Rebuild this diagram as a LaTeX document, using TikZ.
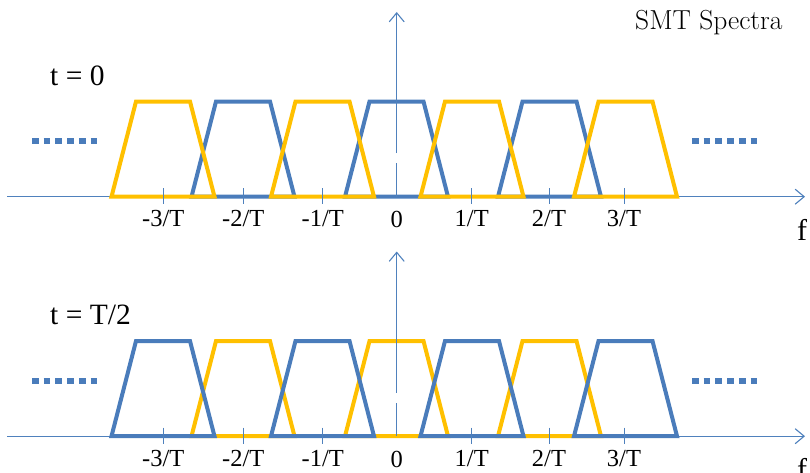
\documentclass[tikz,border=0pt]{standalone}
\usepackage{fontspec}
\newfontfamily\timesfont{Liberation Serif}
\usepackage{tikz}
\usetikzlibrary{arrows.meta}
\definecolor{axisBlue}{RGB}{79, 129, 189}
\definecolor{bandBlue}{RGB}{74, 124, 187}
\definecolor{bandGold}{RGB}{255, 192, 0}

\begin{document}
\begin{tikzpicture}[x=1pt, y=-1pt,
    axis/.style={axisBlue, line width=1.1pt},
    tip/.style={-{Straight Barb[length=9pt, width=15pt]}},
    band/.style={line width=4pt},
    dots/.style={bandBlue, line width=6pt, dash pattern=on 6.7pt off 5pt},
    ticklabel/.style={anchor=base, inner sep=0pt, font=\timesfont\fontsize{24.5}{28}\selectfont},
    timelabel/.style={anchor=base west, inner sep=0pt, font=\timesfont\fontsize{29.5}{34}\selectfont}]
  \useasboundingbox (0,0) rectangle (810,472);
  \node[anchor=base west, inner sep=0pt, font=\fontsize{27.5}{32}\selectfont] (title) at (635,29.3) {SMT Spectra};
  \foreach \y/\ca/\cb/\name/\when in {0/bandGold/bandBlue/top/{0}, 239.5/bandBlue/bandGold/bot/{T/2}} {
    % frequency axis
    \draw[axis, tip] (7,\y+196.7) -- (805,\y+196.7);
    % bands at even and odd multiples of 1/T
    \foreach \c in {243,396.5,549.5}
      \draw[band, \cb] ({\c-51.5},\y+196.7) -- ({\c-27},\y+101.5) -- ({\c+27},\y+101.5) -- ({\c+51.5},\y+196.7) -- cycle;
    \foreach \c in {163,322.5,472,625.5}
      \draw[band, \ca] ({\c-51.5},\y+196.7) -- ({\c-27},\y+101.5) -- ({\c+27},\y+101.5) -- ({\c+51.5},\y+196.7) -- cycle;
    % amplitude axis
    \draw[axis] (396.7,\y+196.7) -- (396.7,\y+163);
    \draw[axis, tip] (396.7,\y+153) -- (396.7,\y+12);
    \draw[dots] (32,\y+141) -- (99,\y+141);
    \draw[dots] (692,\y+141) -- (759,\y+141);
    \foreach \c/\k in {163.3/-3,243.3/-2,322.7/-1,471.7/1,549/2,624/3} {
      \draw[axis, line width=0.9pt] (\c,\y+188) -- (\c,\y+204);
      \node[ticklabel] (\name tick\k) at (\c,\y+226.5) {\k/T};
    }
    \node[ticklabel] (\name tick0) at (396.7,\y+227.5) {0};
    \node[timelabel] (\name time) at (50,\y+85) {t = \when};
    \node[anchor=base west, inner sep=0pt, font=\timesfont\fontsize{30}{34}\selectfont] (\name freq) at (797,\y+240) {f};
  }
\end{tikzpicture}
\end{document}
